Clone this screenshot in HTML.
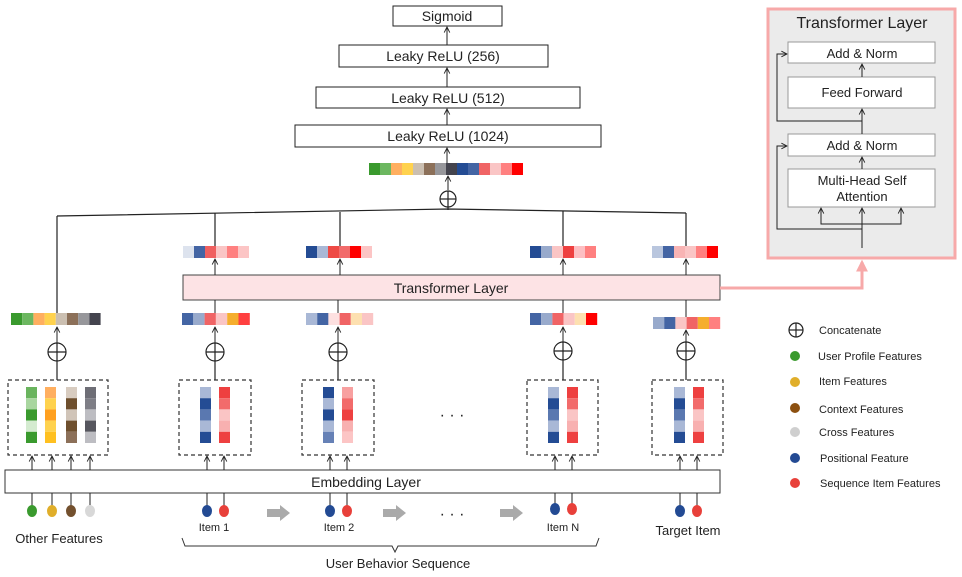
<!DOCTYPE html>
<html><head><meta charset="utf-8"><style>
body{margin:0;background:#fff}
svg{display:block;font-family:"Liberation Sans",sans-serif}
</style></head><body>
<svg id="s" width="962" height="577" viewBox="0 0 962 577" xmlns="http://www.w3.org/2000/svg">
<defs>
<marker id="a" viewBox="0 0 10 10" refX="9" refY="5" markerWidth="7" markerHeight="7" orient="auto"><path d="M1,1 L9,5 L1,9" fill="none" stroke="#222" stroke-width="1.3"/></marker>
<marker id="pa" viewBox="0 0 10 10" refX="8" refY="5" markerWidth="4" markerHeight="4" orient="auto"><path d="M0,0 L10,5 L0,10z" fill="#f7a9a9"/></marker>
</defs>
<g stroke="#222" stroke-width="1" fill="#fff">
<rect x="393" y="6" width="109" height="20"/>
<rect x="339" y="45" width="209" height="22"/>
<rect x="316" y="87" width="264" height="21"/>
<rect x="295" y="125" width="306" height="22"/>
</g>
<g font-size="14" fill="#222" text-anchor="middle">
<text x="447" y="21">Sigmoid</text>
<text x="443" y="61">Leaky ReLU (256)</text>
<text x="448" y="103">Leaky ReLU (512)</text>
<text x="448" y="141">Leaky ReLU (1024)</text>
</g>
<g stroke="#222" stroke-width="1" fill="none" marker-end="url(#a)">
<line x1="447" y1="45" x2="447" y2="27"/>
<line x1="447" y1="87" x2="447" y2="68"/>
<line x1="447" y1="125" x2="447" y2="109"/>
<line x1="447" y1="163" x2="447" y2="148"/>
<line x1="448" y1="190" x2="448" y2="176"/>
</g>
<g stroke="#222" stroke-width="1.2" fill="none">
<circle cx="448" cy="199" r="8"/><line x1="440" y1="199" x2="456" y2="199"/><line x1="448" y1="191" x2="448" y2="210"/>
<path d="M57,216 L448,209 L686,213"/>
<line x1="57" y1="216" x2="57" y2="313"/>
<line x1="215" y1="213" x2="215" y2="246"/>
<line x1="340" y1="212" x2="340" y2="246"/>
<line x1="563" y1="211" x2="563" y2="246"/>
<line x1="686" y1="213" x2="686" y2="246"/>
</g>
<rect x="183" y="275" width="537" height="25" fill="#fde3e5" stroke="#444" stroke-width="1"/>
<text x="451" y="293" font-size="14" text-anchor="middle" fill="#222">Transformer Layer</text>
<path d="M720,288 L862,288 L862,262" stroke="#f7a9a9" stroke-width="3" fill="none" marker-end="url(#pa)"/>
<g stroke="#222" stroke-width="1" fill="none" marker-end="url(#a)">
<line x1="215" y1="275" x2="215" y2="259"/>
<line x1="340" y1="275" x2="340" y2="259"/>
<line x1="563" y1="275" x2="563" y2="259"/>
<line x1="686" y1="275" x2="686" y2="259"/>
<line x1="57" y1="343" x2="57" y2="327"/>
<line x1="215" y1="343" x2="215" y2="327"/>
<line x1="338" y1="343" x2="338" y2="327"/>
<line x1="563" y1="343" x2="563" y2="327"/>
<line x1="686" y1="343" x2="686" y2="330"/>
</g>
<g stroke="#222" stroke-width="1" fill="none">
<line x1="215" y1="300" x2="215" y2="313"/><line x1="338" y1="300" x2="338" y2="313"/><line x1="563" y1="300" x2="563" y2="313"/><line x1="686" y1="300" x2="686" y2="317"/>
</g>
<g id="cells"></g>
<g stroke="#222" stroke-width="1.2" fill="none" id="plus"></g>
<g stroke="#333" stroke-width="1.2" fill="none" stroke-dasharray="4,3">
<rect x="8" y="380" width="100" height="75"/>
<rect x="179" y="380" width="72" height="75"/>
<rect x="302" y="380" width="72" height="75"/>
<rect x="527" y="380" width="71" height="75"/>
<rect x="652" y="380" width="71" height="75"/>
</g>
<text x="452" y="420" font-size="16" text-anchor="middle" fill="#222">· · ·</text>
<rect x="5" y="470" width="715" height="23" fill="#fff" stroke="#333"/>
<text x="366" y="487" font-size="14" text-anchor="middle" fill="#222">Embedding  Layer</text>
<g id="feet" stroke="#222" stroke-width="1" fill="none"></g>
<g fill="#aaa">
<path d="M267,509 h13 v-4 l10,8 l-10,8 v-4 h-13z"/>
<path d="M383,509 h13 v-4 l10,8 l-10,8 v-4 h-13z"/>
<path d="M500,509 h13 v-4 l10,8 l-10,8 v-4 h-13z"/>
</g>
<text x="452" y="519" font-size="16" text-anchor="middle" fill="#222">· · ·</text>
<g font-size="11" fill="#222" text-anchor="middle">
<text x="214" y="531">Item 1</text><text x="339" y="531">Item 2</text><text x="563" y="531">Item N</text>
</g>
<g font-size="13" fill="#222" text-anchor="middle">
<text x="688" y="535">Target Item</text><text x="59" y="543">Other Features</text>
<text x="398" y="568">User Behavior Sequence</text>
</g>
<path d="M182,538 L185,546 L392,546 L395,552 L398,546 L596,546 L599,538" stroke="#333" fill="none" stroke-width="1"/>
<!-- legend -->
<g stroke="#222" stroke-width="1.2" fill="none"><circle cx="796" cy="330" r="7"/><line x1="789" y1="330" x2="803" y2="330"/><line x1="796" y1="323" x2="796" y2="337"/></g>
<circle cx="795" cy="356" r="5" fill="#3a9a2e"/><circle cx="795" cy="382" r="5" fill="#e0ae2a"/><circle cx="795" cy="408" r="5" fill="#8c5010"/><circle cx="795" cy="432" r="5" fill="#cfcfcf"/><circle cx="795" cy="458" r="5" fill="#234a93"/><circle cx="795" cy="483" r="5" fill="#e8403a"/>
<g font-size="11" fill="#222">
<text x="819" y="334">Concatenate</text><text x="818" y="360">User Profile Features</text><text x="819" y="385">Item Features</text><text x="819" y="413">Context Features</text><text x="819" y="436">Cross Features</text><text x="820" y="462">Positional Feature</text><text x="820" y="487">Sequence Item Features</text>
</g>
<!-- right panel -->
<rect x="768" y="9" width="187" height="249" fill="#ebebeb" stroke="#f7a9a9" stroke-width="3"/>
<text x="862" y="28" font-size="16" text-anchor="middle" fill="#222">Transformer Layer</text>
<g fill="#fff" stroke="#999" stroke-width="1">
<rect x="788" y="42" width="147" height="21"/><rect x="788" y="77" width="147" height="31"/><rect x="788" y="134" width="147" height="22"/><rect x="788" y="169" width="147" height="38"/>
</g>
<g font-size="13" fill="#222" text-anchor="middle">
<text x="862" y="58">Add &amp; Norm</text><text x="862" y="97">Feed Forward</text><text x="862" y="150">Add &amp; Norm</text><text x="862" y="185">Multi-Head Self</text><text x="862" y="201">Attention</text>
</g>
<g stroke="#222" stroke-width="1" fill="none">
<line x1="862" y1="77" x2="862" y2="64" marker-end="url(#a)"/>
<line x1="862" y1="134" x2="862" y2="109" marker-end="url(#a)"/>
<line x1="862" y1="169" x2="862" y2="157" marker-end="url(#a)"/>
<line x1="862" y1="248" x2="862" y2="208" marker-end="url(#a)"/>
<path d="M862,224 L821,224 L821,208" marker-end="url(#a)"/>
<path d="M862,224 L901,224 L901,208" marker-end="url(#a)"/>
<path d="M862,229 L777,229 L777,146 L787,146" marker-end="url(#a)"/>
<path d="M862,121 L777,121 L777,54 L787,54" marker-end="url(#a)"/>
</g>
</svg>
<script>
var NS="http://www.w3.org/2000/svg",C=document.getElementById('cells');
function r(x,y,w,h,f){var e=document.createElementNS(NS,'rect');e.setAttribute('x',x);e.setAttribute('y',y);e.setAttribute('width',w);e.setAttribute('height',h);e.setAttribute('fill',f);C.appendChild(e);}
function hv(x,y,cs,w){cs.forEach(function(c,i){r(x+i*w,y,w,12,c)});}
function vv(x,y,cs){cs.forEach(function(c,i){r(x,y+i*11.2,11,11.2,c)});}
hv(369,163,["#3a9a2e","#6cb760","#ffaf60","#ffd24e","#cbbfb1","#8c7059","#97979b","#44444e","#244c94","#4465a4","#f06465","#fac5c5","#ff8080","#ff0000"],11);
hv(183,246,["#dde3ee","#4465a4","#f06060","#fac5c5","#ff8080","#fcc5c5"],11);
hv(306,246,["#244c94","#a9b8d6","#ee4a45","#f26b6b","#ff0000","#fcc5c5"],11);
hv(530,246,["#244c94","#98aacc","#fac5c5","#ee4040","#fdbfc3","#ff8080"],11);
hv(652,246,["#b9c6de","#4465a4","#f8b4b4","#fac5c5","#ff8080","#ff0000"],11);
hv(11,313,["#3a9a2e","#6cb760","#ffaf60","#ffd24e","#cbbfb1","#8c7059","#97979b","#44444e"],11.2);
hv(182,313,["#4465a4","#98aacc","#f06465","#fac5c5","#f5ae2e","#ff4040"],11.3);
hv(306,313,["#a9b8d6","#4465a4","#fde0e0","#f06465","#fde0b0","#fac5c5"],11.2);
hv(530,313,["#4465a4","#98aacc","#f06465","#fac5c5","#fde0b0","#ff0000"],11.2);
hv(653,317,["#98aacc","#4465a4","#fac5c5","#f06465","#f5ae2e","#ff8080"],11.2);
vv(26,387,["#6ab45e","#a9d6a0","#3a9a2e","#d4ebd0","#3a9a2e"]);
vv(45,387,["#ffaf60","#ffd24e","#ffa020","#ffd24e","#ffc020"]);
vv(66,387,["#d8ccc0","#6e4f2e","#d0c4b8","#6e4f2e","#8c7059"]);
vv(85,387,["#6e6e76","#7e7e86","#bdbdc2","#56565e","#bdbdc2"]);
var B1=["#a9b8d6","#244c94","#5a78b0","#a9b8d6","#244c94"],R1=["#ee4040","#f26b6b","#fac5c5","#f8b0b0","#ee4040"];
vv(200,387,B1);vv(219,387,R1);
vv(323,387,["#244c94","#a9b8d6","#244c94","#a9b8d6","#6681b6"]);vv(342,387,["#f8a0a0","#f26b6b","#ee4040","#f8b0b0","#fcc5c5"]);
vv(548,387,B1);vv(567,387,R1);vv(674,387,B1);vv(693,387,R1);
var P=document.getElementById('plus');
[[57,352],[215,352],[338,352],[563,351],[686,351]].forEach(function(p){
 P.innerHTML+='<circle cx="'+p[0]+'" cy="'+p[1]+'" r="9"/><line x1="'+(p[0]-9)+'" y1="'+p[1]+'" x2="'+(p[0]+9)+'" y2="'+p[1]+'"/><line x1="'+p[0]+'" y1="'+(p[1]-9)+'" x2="'+p[0]+'" y2="380"/>';});
var F=document.getElementById('feet'),s='';
var feet=[[32,"#3a9a2e"],[52,"#e0ae2a"],[71,"#73502e"],[90,"#d8d8d8"],[207,"#234a93"],[224,"#e8403a"],[330,"#234a93"],[347,"#e8403a"],[555,"#234a93"],[572,"#e8403a"],[680,"#234a93"],[697,"#e8403a"]];
feet.forEach(function(f){var y=(f[0]>540&&f[0]<600)?509:511;
 s+='<line x1="'+f[0]+'" y1="493" x2="'+f[0]+'" y2="'+(y-5)+'"/><line x1="'+f[0]+'" y1="470" x2="'+f[0]+'" y2="456" marker-end="url(#a)"/><ellipse cx="'+f[0]+'" cy="'+y+'" rx="5" ry="6" fill="'+f[1]+'" stroke="none"/>';});
F.innerHTML=s;
</script>
</body></html>
